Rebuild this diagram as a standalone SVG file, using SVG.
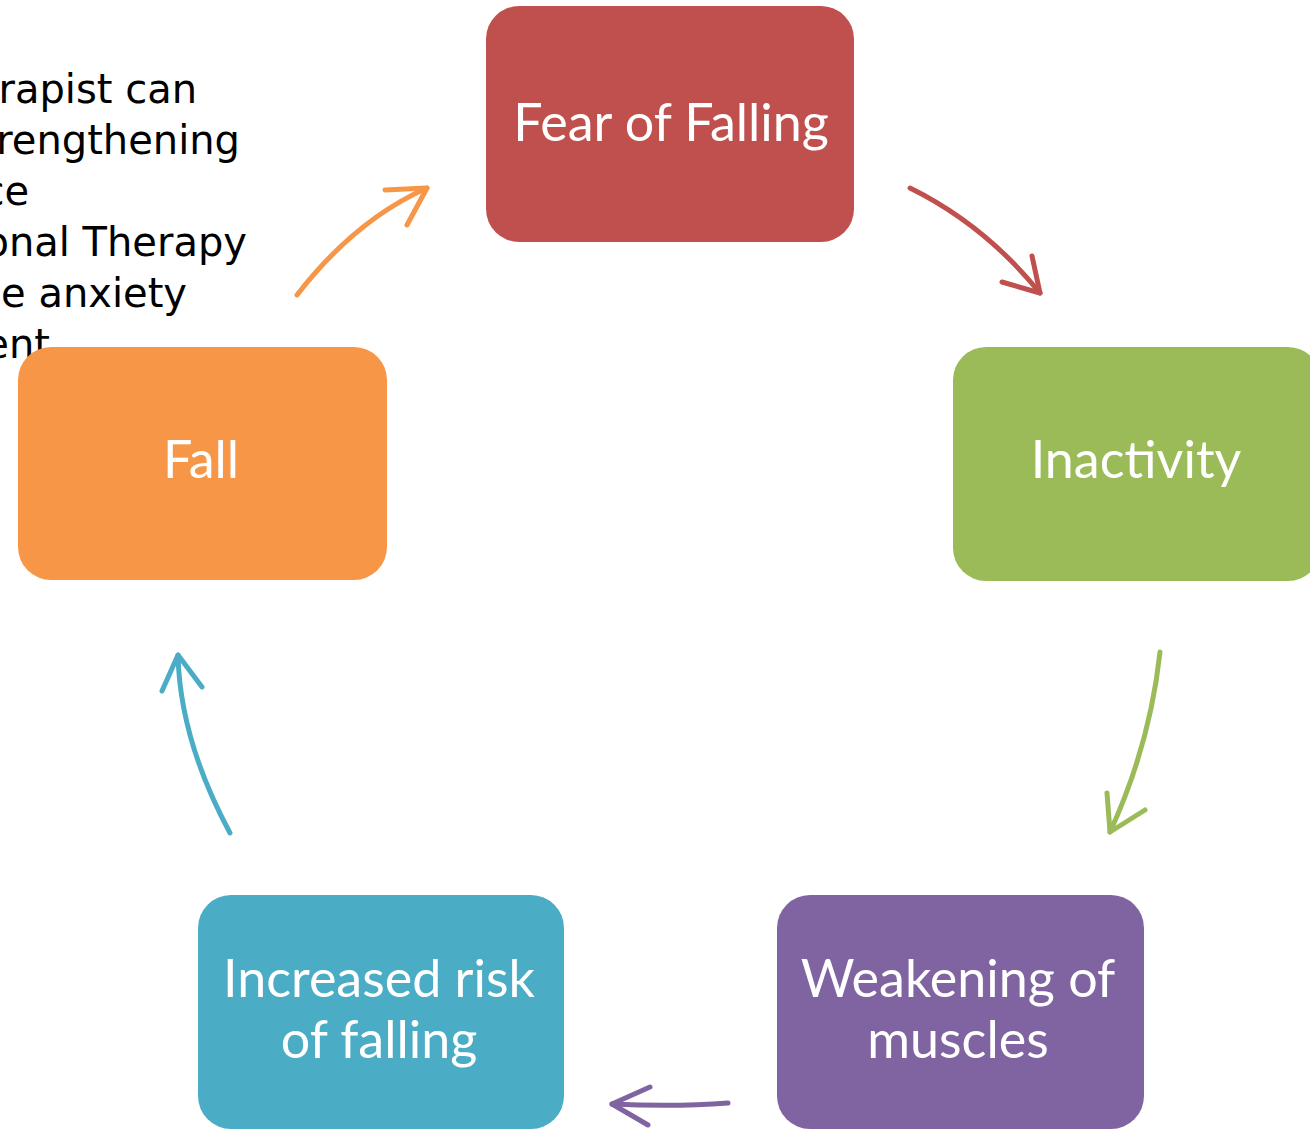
<svg xmlns="http://www.w3.org/2000/svg" width="1310" height="1130" viewBox="0 0 1310 1130">
  <style>
    .box { stroke: none; }
    .label { font-family: Lato, "Liberation Sans", sans-serif; font-size: 52px; fill: #ffffff; text-anchor: middle; }
    .note { font-family: "DejaVu Sans", sans-serif; font-size: 40px; fill: #000000; text-anchor: end; }
    .arrow { fill: none; stroke-width: 5; stroke-linecap: round; stroke-linejoin: round; }
  </style>
  <rect width="1310" height="1130" fill="#ffffff"/>

  <!-- side note, running off the left edge -->
  <g id="note">
    <text class="note" x="197" y="103">rapist can</text>
    <text class="note" x="240" y="154">rengthening</text>
    <text class="note" x="29" y="205">ce</text>
    <text class="note" x="247" y="256">onal Therapy</text>
    <text class="note" x="187" y="307">e anxiety</text>
    <text class="note" x="50" y="358">ent</text>
  </g>

  <g id="node-fear">
    <rect class="box" x="486" y="6" width="368" height="236" rx="33" fill="#C0504D"/>
    <text class="label" x="671" y="141">Fear of Falling</text>
  </g>

  <g id="node-inactivity">
    <rect class="box" x="953" y="347" width="368" height="234" rx="33" fill="#9BBB59"/>
    <text class="label" x="1136" y="478">Inactivity</text>
  </g>

  <g id="node-weakening">
    <rect class="box" x="777" y="895" width="367" height="234" rx="33" fill="#8064A2"/>
    <text class="label" x="958" y="997">Weakening of</text>
    <text class="label" x="958" y="1058">muscles</text>
  </g>

  <g id="node-risk">
    <rect class="box" x="198" y="895" width="366" height="234" rx="33" fill="#4BACC6"/>
    <text class="label" x="379" y="997">Increased risk</text>
    <text class="label" x="379" y="1058">of falling</text>
  </g>

  <g id="node-fall">
    <rect class="box" x="18" y="347" width="369" height="233" rx="33" fill="#F79646"/>
    <text class="label" x="201" y="478">Fall</text>
  </g>

  <g id="connectors">
    <g>
      <path class="arrow" stroke="#C0504D" d="M910,188 Q985,225 1040,293"/>
      <path class="arrow" stroke="#C0504D" d="M1032,256 L1040,293 L1002,282"/>
    </g>
    <g>
      <path class="arrow" stroke="#9BBB59" d="M1160,652 Q1150,745 1110,832"/>
      <path class="arrow" stroke="#9BBB59" d="M1107,793 L1110,832 L1145,810"/>
    </g>
    <g>
      <path class="arrow" stroke="#8064A2" d="M728,1103 Q675,1107 612,1104"/>
      <path class="arrow" stroke="#8064A2" d="M650,1087 L612,1104 L648,1125"/>
    </g>
    <g>
      <path class="arrow" stroke="#4BACC6" d="M230,833 Q180,740 178,655"/>
      <path class="arrow" stroke="#4BACC6" d="M162,691 L178,655 L202,687"/>
    </g>
    <g>
      <path class="arrow" stroke="#F79646" d="M297,295 Q355,220 427,188"/>
      <path class="arrow" stroke="#F79646" d="M385,190 L427,188 L407,225"/>
    </g>
  </g>
</svg>
